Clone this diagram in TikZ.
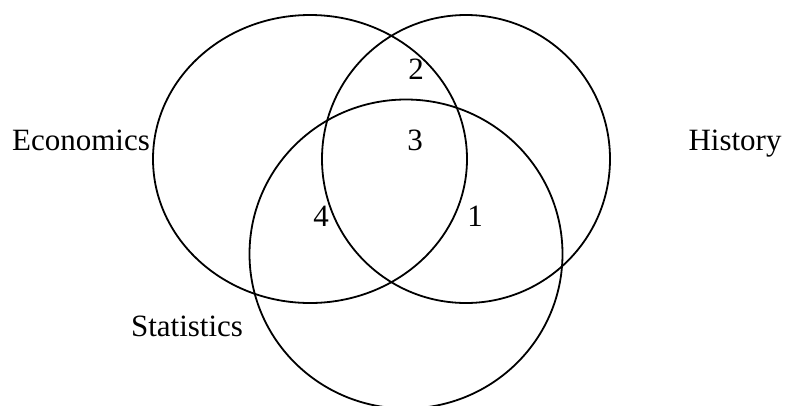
\documentclass[tikz,border=0pt]{standalone}
\usepackage{fontspec}
\setmainfont{Liberation Serif}
\usetikzlibrary{shapes.geometric}

\begin{document}
\begin{tikzpicture}[x=1pt, y=-1pt,
    set/.style={draw, ellipse, line width=1.8pt, inner sep=0pt},
    lab/.style={anchor=base, inner sep=0pt, font=\fontsize{31}{36}\selectfont},
    num/.style={lab}
]
\useasboundingbox (0,0) rectangle (789,405);

% Sets
\node[set, minimum width=314pt, minimum height=288pt] (econ) at (310,159) {};
\node[set, minimum width=288pt, minimum height=288pt] (hist) at (466,159) {};
\node[set, minimum width=313pt, minimum height=309pt] (stat) at (406,254) {};

% Set names
\node[lab] (econlab) at (81,150) {Economics};
\node[lab] (histlab) at (735,150) {History};
\node[lab] (statlab) at (187,336) {Statistics};

% Region counts
\node[num] (n2) at (416,79) {2};
\node[num] (n3) at (415,150) {3};
\node[num] (n4) at (321,226) {4};
\node[num] (n1) at (475,226) {1};

\end{tikzpicture}
\end{document}
